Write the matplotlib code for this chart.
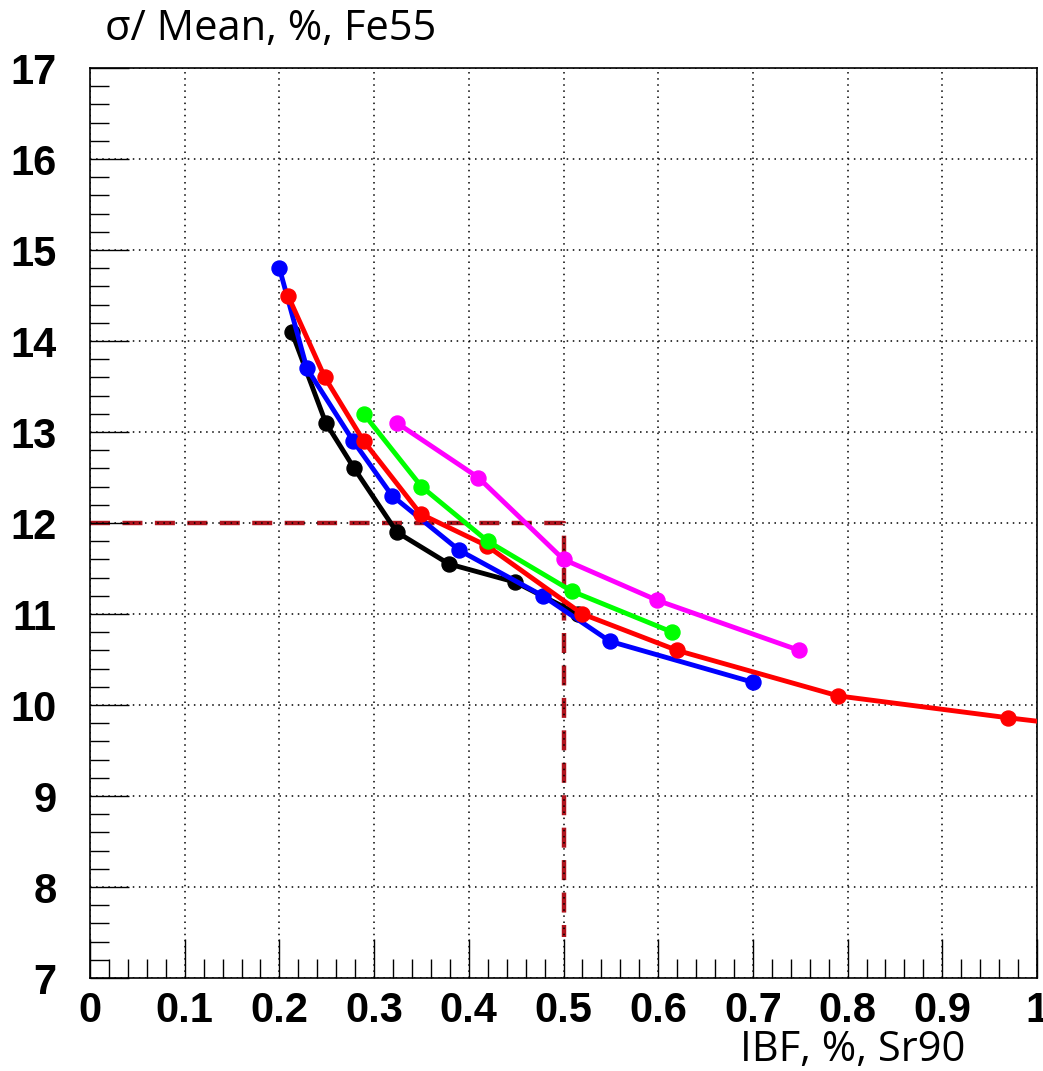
import matplotlib
matplotlib.use("Agg")
import matplotlib.pyplot as plt

# data
black_x = [0.213, 0.249, 0.279, 0.324, 0.379, 0.449, 0.515]
black_y = [14.1, 13.1, 12.6, 11.9, 11.55, 11.35, 11.0]

blue_x = [0.200, 0.229, 0.278, 0.319, 0.390, 0.478, 0.549, 0.700]
blue_y = [14.8, 13.7, 12.9, 12.3, 11.7, 11.2, 10.7, 10.25]

red_x = [0.209, 0.248, 0.289, 0.349, 0.419, 0.520, 0.620, 0.790, 0.969, 1.10]
red_y = [14.5, 13.6, 12.9, 12.1, 11.75, 11.0, 10.6, 10.1, 9.86, 9.7]

green_x = [0.289, 0.350, 0.420, 0.509, 0.615]
green_y = [13.2, 12.4, 11.8, 11.25, 10.8]

magenta_x = [0.324, 0.410, 0.500, 0.599, 0.749]
magenta_y = [13.1, 12.5, 11.6, 11.15, 10.6]

cut_x = [0.0, 0.5, 0.5]
cut_y = [12.0, 12.0, 7.45]

x_ticks = [0, 0.1, 0.2, 0.3, 0.4, 0.5, 0.6, 0.7, 0.8, 0.9, 1.0]
x_labels = ['0', '0.1', '0.2', '0.3', '0.4', '0.5', '0.6', '0.7', '0.8', '0.9', '1']
y_ticks = [7, 8, 9, 10, 11, 12, 13, 14, 15, 16, 17]

fig = plt.figure(figsize=(10.43, 10.71), dpi=100)
ax = fig.add_axes([90 / 1043, 93 / 1071, 947 / 1043, 910 / 1071])

ax.plot(cut_x, cut_y, color='#b0141e', lw=3.2, ls=(0, (4.5, 2.8)), zorder=1)
ax.grid(True, color='black', ls=(0, (1, 3)), lw=1.1, zorder=2)

series = [(black_x, black_y, 'black'), (blue_x, blue_y, '#0000ff'),
          (red_x, red_y, '#ff0000'), (green_x, green_y, '#00ff00'),
          (magenta_x, magenta_y, '#ff00ff')]
for i, (xs, ys, c) in enumerate(series):
    ax.plot(xs, ys, color=c, lw=3.5, marker='o', ms=10.8, zorder=3 + i)

ax.set_xlim(0, 1)
ax.set_ylim(7, 17)
ax.set_axisbelow(False)
ax.set_xticks(x_ticks)
ax.set_xticklabels(x_labels)
ax.set_xticks([i * 0.02 for i in range(51)], minor=True)
ax.set_yticks(y_ticks)
ax.set_yticks([7 + i * 0.2 for i in range(51)], minor=True)
ax.tick_params(which='both', direction='in', top=False, right=False, width=1)
ax.tick_params(which='major', length=28)
ax.tick_params(which='minor', length=14)
ax.tick_params(axis='x', which='major', pad=9)
ax.tick_params(axis='y', which='major', pad=24)
for lab in ax.get_xticklabels() + ax.get_yticklabels():
    lab.set_fontfamily(['Liberation Sans', 'DejaVu Sans'])
    lab.set_fontweight('bold')
    lab.set_fontsize(30)
for sp in ax.spines.values():
    sp.set_linewidth(1.2)

fig.text(105 / 1043, 1 - 40 / 1071, 'σ/ Mean, %, Fe55', fontsize=30,
         family=['Open Sans', 'DejaVu Sans'], va='baseline', ha='left')
fig.text(965 / 1043, 1 - 1061 / 1071, 'IBF, %, Sr90', fontsize=30,
         family=['Open Sans', 'DejaVu Sans'], va='baseline', ha='right')

fig.savefig('out.png', dpi=100)
